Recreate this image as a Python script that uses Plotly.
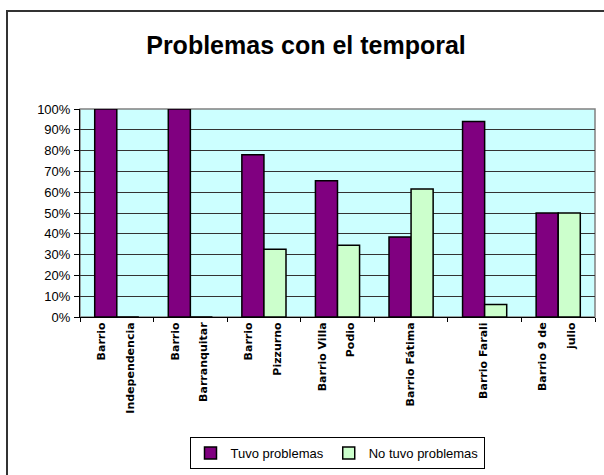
import plotly.graph_objects as go

categories = [
    "Barrio<br><br>Independencia",
    "Barrio<br><br>Barranquitar",
    "Barrio<br><br>Pizzurno",
    "Barrio Villa<br><br>Podio",
    "Barrio Fátima",
    "Barrio Farali",
    "Barrio 9 de<br><br>julio",
]
tuvo = [100, 100, 78, 65.5, 38.5, 94, 50]
no_tuvo = [0, 0, 32.6, 34.5, 61.5, 6, 50]
y_ticks = list(range(0, 101, 10))
y_tick_labels = [f"{v}%" for v in y_ticks]

W, H = 604, 475
ml, mr, mt, mb = 80, 9, 109, 158
pw, ph = W - ml - mr, H - mt - mb

fig = go.Figure()
fig.add_trace(go.Bar(
    x=categories, y=tuvo, name="Tuvo problemas",
    marker=dict(color="#800080", line=dict(color="#000000", width=1.5)),
))
fig.add_trace(go.Bar(
    x=categories, y=no_tuvo, name="No tuvo problemas",
    marker=dict(color="#CCFFCC", line=dict(color="#000000", width=1.5)),
))

def px_x(p):
    return (p - ml) / pw

def px_y(p):
    return (mt + ph - p) / ph

fig.update_layout(
    width=W, height=H,
    margin=dict(l=ml, r=mr, t=mt, b=mb, autoexpand=False),
    paper_bgcolor="white",
    plot_bgcolor="#CCFFFF",
    barmode="group", bargap=0.4, bargroupgap=0,
    font=dict(family="Arial, Liberation Sans, sans-serif", color="black"),
    title=dict(
        text="<b>Problemas con el temporal</b>",
        font=dict(size=25, family="Arial, Liberation Sans, sans-serif", color="black"),
        x=px_x(306), xref="paper", xanchor="center",
        y=1 - 45 / H, yref="container", yanchor="middle",
    ),
    showlegend=True,
    legend=dict(
        orientation="h", x=px_x(337), xanchor="center", y=px_y(453), yanchor="middle",
        bordercolor="black", borderwidth=1, bgcolor="white",
        font=dict(size=13, family="Arial, Liberation Sans, sans-serif"),
        itemwidth=30,
    ),
    xaxis=dict(
        tickangle=-90, tickson="boundaries", ticks="outside", ticklen=4,
        tickcolor="black", showline=True, linecolor="black", linewidth=1,
        tickfont=dict(size=11, family="DejaVu Sans, sans-serif", weight="bold"),
        showgrid=False, automargin=False, ticklabelshift=-1,
    ),
    yaxis=dict(
        range=[0, 100], tickvals=y_ticks, ticktext=y_tick_labels,
        ticks="outside", ticklen=5, tickcolor="black",
        showline=True, linecolor="black", linewidth=1,
        showgrid=True, gridcolor="#333333", gridwidth=1,
        tickfont=dict(size=13), zeroline=False, automargin=False,
        ticklabelstandoff=1,
    ),
    shapes=[
        dict(type="rect", xref="paper", yref="paper", x0=0, x1=1, y0=0, y1=1,
             line=dict(color="#808080", width=1.5), layer="below"),
        dict(type="rect", xref="paper", yref="paper",
             x0=px_x(7), x1=px_x(620), y0=px_y(490), y1=px_y(11),
             line=dict(color="#333333", width=2)),
    ],
)

fig.write_html(
    "out.html",
    config={"displayModeBar": False},
    post_script="document.body.style.margin='0';document.body.style.padding='0';",
)
